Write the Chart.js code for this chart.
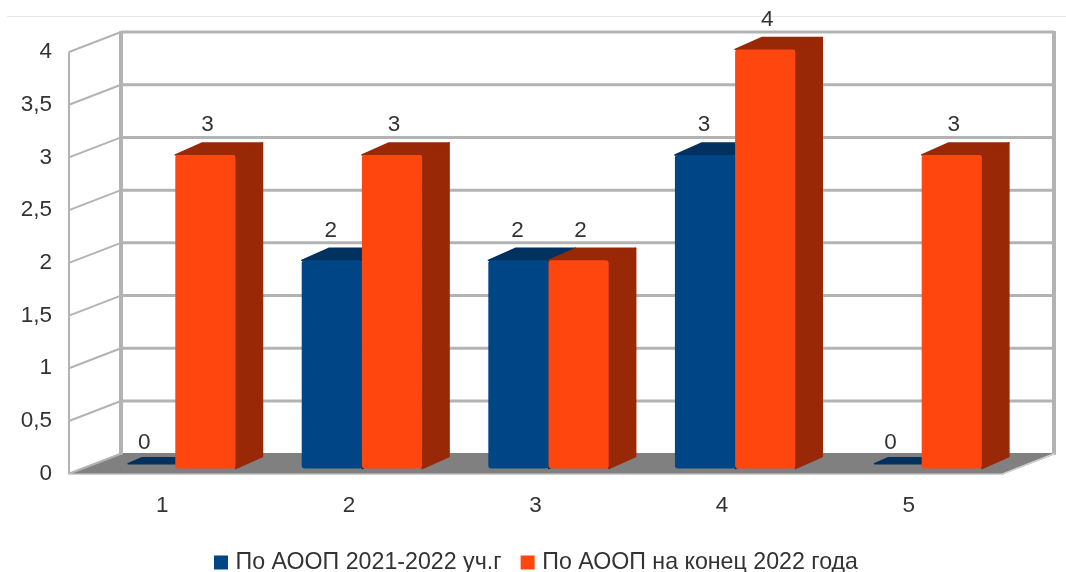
<!DOCTYPE html>
<html lang="ru">
<head>
<meta charset="utf-8">
<title>АООП</title>
<script src="https://cdn.jsdelivr.net/npm/chart.js@4/dist/chart.umd.min.js"></script>
<style>
  html, body { margin: 0; padding: 0; background: #fff; overflow: hidden; }
  #wrap { position: relative; width: 1066px; height: 572px; }
  #rule { position: absolute; left: 7px; right: 0; top: 16px; height: 1px; background: #e8e8e8; }
  #chart { display: block; filter: blur(0.6px); }
</style>
</head>
<body>
<div id="wrap">
  <div id="rule"></div>
  <canvas id="chart" width="1066" height="572"></canvas>
</div>
<script>
// ----------------------------------------------------------
// Данные
// ----------------------------------------------------------
const categories  = ['1', '2', '3', '4', '5'];
const series2021  = [0, 2, 2, 3, 0];
const series2022  = [3, 3, 2, 4, 3];
const seriesNames = ['По АООП 2021-2022 уч.г', 'По АООП на конец 2022 года'];
const yTickValues = [0, 0.5, 1, 1.5, 2, 2.5, 3, 3.5, 4];
const yTickLabels = ['0', '0,5', '1', '1,5', '2', '2,5', '3', '3,5', '4'];

// ----------------------------------------------------------
// Псевдо-3D: стенки, пол и объём столбцов
// ----------------------------------------------------------
const WALL_DX = 52, WALL_DY = -20;     // глубина стенки
const BAR_DX = 13, BAR_DY = -2.5;      // сдвиг столбцов от передней плоскости
const DEPTH_DX = 27, DEPTH_DY = -12;   // глубина столбца
const LEGEND_SHIFT = 37;               // легенда центрирована не по области графика
const TEXT_COLOR = '#333333';
const GRID_COLOR = '#b3b3b3';
const FONT_FAMILY = '"Liberation Sans", Arial, sans-serif';
const darkColors = ['#00315f', '#992807'];
const labelShift = [-1, 2];

function poly(ctx, pts, color) {
  ctx.beginPath();
  pts.forEach((p, i) => (i ? ctx.lineTo(p[0], p[1]) : ctx.moveTo(p[0], p[1])));
  ctx.closePath();
  ctx.fillStyle = color;
  ctx.fill();
  ctx.strokeStyle = color;
  ctx.lineWidth = 1.5;
  ctx.lineJoin = 'round';
  ctx.stroke();
}

function drawWalls(chart) {
  const ctx = chart.ctx;
  const { x, y } = chart.scales;
  const left = x.left, right = x.right;
  const bottom = y.getPixelForValue(0), top = y.getPixelForValue(4);

  // пол
  poly(ctx, [[left, bottom], [right, bottom], [right + WALL_DX, bottom + WALL_DY], [left + WALL_DX, bottom + WALL_DY]], '#808080');

  ctx.strokeStyle = GRID_COLOR;
  ctx.lineCap = 'butt';

  // линии сетки: задняя стенка и боковая
  yTickValues.forEach((v) => {
    const py = y.getPixelForValue(v);
    ctx.lineWidth = 2;
    ctx.beginPath();
    ctx.moveTo(left, py);
    ctx.lineTo(left + WALL_DX, py + WALL_DY);
    ctx.stroke();
    if (v > 0) {
      ctx.lineWidth = 3;
      ctx.beginPath();
      ctx.moveTo(left + WALL_DX, py + WALL_DY);
      ctx.lineTo(right + WALL_DX, py + WALL_DY);
      ctx.stroke();
    }
  });

  // вертикали
  ctx.lineWidth = 2;
  ctx.beginPath();
  ctx.moveTo(left, top);
  ctx.lineTo(left, bottom);
  ctx.stroke();

  ctx.lineWidth = 4;
  [left + WALL_DX, right + WALL_DX].forEach((vx) => {
    ctx.beginPath();
    ctx.moveTo(vx, top + WALL_DY - 1);
    ctx.lineTo(vx, bottom + WALL_DY + 1);
    ctx.stroke();
  });

  // передний край пола и правый скос
  ctx.strokeStyle = '#d0d0d0';
  ctx.lineWidth = 1.5;
  ctx.beginPath();
  ctx.moveTo(left, bottom + 0.5);
  ctx.lineTo(right, bottom + 0.5);
  ctx.lineTo(right + WALL_DX, bottom + WALL_DY);
  ctx.stroke();
}

function drawBars(chart) {
  const ctx = chart.ctx;

  [0, 1].forEach((di) => {
    const meta = chart.getDatasetMeta(di);
    const values = chart.data.datasets[di].data;
    const dark = darkColors[di];

    ctx.save();
    ctx.translate(BAR_DX, BAR_DY);

    meta.data.forEach((bar, i) => {
      const x0 = bar.x - bar.width / 2;
      const x1 = bar.x + bar.width / 2;

      if (values[i] === 0) {
        // нулевой столбец: только тонкая плоскость на полу
        poly(ctx, [[x0 + 13, bar.y - 7.5], [x1 + 13, bar.y - 7.5], [x1 + DEPTH_DX, bar.y - 13.5], [x0 + DEPTH_DX, bar.y - 13.5]], dark);
        return;
      }

      poly(ctx, [[x1, bar.y], [x1 + DEPTH_DX, bar.y + DEPTH_DY], [x1 + DEPTH_DX, bar.base + DEPTH_DY], [x1, bar.base]], dark);
      poly(ctx, [[x0, bar.y], [x0 + DEPTH_DX, bar.y + DEPTH_DY], [x1 + DEPTH_DX, bar.y + DEPTH_DY], [x1, bar.y]], dark);
      bar.draw(ctx);
    });

    ctx.restore();
  });
}

function drawValueLabels(chart) {
  const ctx = chart.ctx;
  ctx.font = '22.5px ' + FONT_FAMILY;
  ctx.fillStyle = TEXT_COLOR;
  ctx.textAlign = 'center';
  ctx.textBaseline = 'middle';

  [0, 1].forEach((di) => {
    const values = chart.data.datasets[di].data;
    chart.getDatasetMeta(di).data.forEach((bar, i) => {
      const lift = values[i] === 0 ? 28 : 30;
      ctx.fillText(String(values[i]), bar.x + BAR_DX + labelShift[di], bar.y + BAR_DY - lift);
    });
  });
}

const chart3d = {
  id: 'chart3d',
  afterLayout(chart) {
    chart.legend.left += LEGEND_SHIFT;
    chart.legend.right += LEGEND_SHIFT;
  },
  beforeDatasetsDraw(chart) {
    drawWalls(chart);
    drawBars(chart);
    drawValueLabels(chart);
  },
  // столбцы уже нарисованы выше, в нужном порядке и без обрезки
  beforeDatasetDraw() {
    return false;
  },
};

// ----------------------------------------------------------
// График
// ----------------------------------------------------------
new Chart(document.getElementById('chart'), {
  type: 'bar',
  plugins: [chart3d],
  data: {
    labels: categories,
    datasets: [
      { label: seriesNames[0], data: series2021, backgroundColor: '#004586' },
      { label: seriesNames[1], data: series2022, backgroundColor: '#ff460f' },
    ],
  },
  options: {
    responsive: false,
    animation: false,
    events: [],
    base: 0.025,
    categoryPercentage: 0.645,
    barPercentage: 1,
    borderRadius: 3,
    borderSkipped: false,
    borderWidth: 0,
    layout: { padding: { left: 0, right: 64, top: 52, bottom: -12.2 } },
    font: { family: FONT_FAMILY, size: 22.5 },
    color: TEXT_COLOR,
    plugins: {
      tooltip: { enabled: false },
      legend: {
        position: 'bottom',
        labels: {
          // квадрат шире boxWidth, так текст стоит ближе к маркеру
          usePointStyle: true,
          pointStyle: 'rect',
          boxWidth: 6,
          boxHeight: 14,
          padding: 23,
          color: TEXT_COLOR,
          font: { family: FONT_FAMILY, size: 23.2, lineHeight: 1 },
        },
      },
    },
    scales: {
      x: {
        grid: { display: false },
        border: { display: false },
        afterFit(scale) { scale.height = 54.3; },
        ticks: {
          padding: 11,
          color: TEXT_COLOR,
          font: { family: FONT_FAMILY, size: 22.5 },
        },
      },
      y: {
        min: 0,
        max: 4,
        grid: { display: false, drawTicks: false },
        border: { display: false },
        afterFit(scale) { scale.width = 69; },
        afterBuildTicks(scale) { scale.ticks = yTickValues.map((v) => ({ value: v })); },
        ticks: {
          padding: 17,
          color: TEXT_COLOR,
          font: { family: FONT_FAMILY, size: 22.5 },
          callback(value) { return yTickLabels[yTickValues.indexOf(value)]; },
        },
      },
    },
  },
});
</script>
</body>
</html>
